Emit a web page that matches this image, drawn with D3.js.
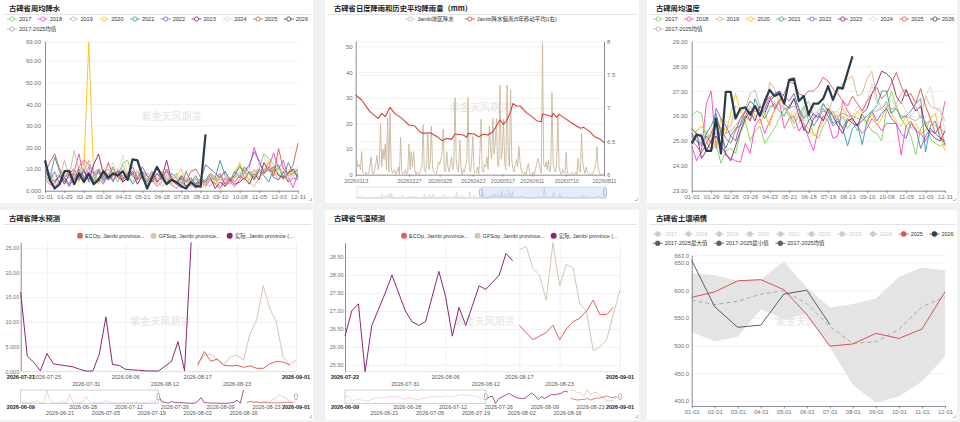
<!DOCTYPE html>
<html>
<head>
<meta charset="utf-8">
<script src="https://cdn.jsdelivr.net/npm/d3@7"></script>
<style>
  html, body { margin: 0; padding: 0; background: #f1f1f1; }
  svg { display: block; }
</style>
</head>
<body>
<svg id="board" width="960" height="422"></svg>
<script>
// ---------- DATA ----------
const years = ["2017", "2018", "2019", "2020", "2021", "2022", "2023", "2024", "2025", "2026"];
const avgName = "2017-2025均值";
const weekTicks = ["01-01", "01-29", "02-26", "03-26", "04-23", "05-21", "06-18",
  "07-16", "08-13", "09-10", "10-08", "11-05", "12-03", "12-31"];

// weekly precipitation (53 weeks, 2026 partial)
const rain2017 = [6,4,3,8,5,2,6,9,4,7, 3,10,6,5,8,4,13,14,6,9, 5,8,7,4,6,3,5,8,4,2, 5,3,6,4,5,3,7,2,4,9, 12,6,8,5,10,17,15,12,8,5, 9,7,8];
const rain2018 = [5,3,2,4,6,3,9,17,5,11, 4,6,3,8,5,7,4,6,9,5, 7,3,5,2,4,6,3,1,4,2, 3,1,4,2,5,3,1,6,4,2, 5,8,11,20,13,9,11,17.5,10,14, 6,1.5,8];
const rain2019 = [12,8,5,6,14,7,18.5,9,13,6, 9,4,7,10,5,8,12,6,4,9, 6,3,8,5,2,4,7,3,1,5, 2,4,1,3,2,6,1,4,3,7, 5,9,4,2,6,8,13,9,5,7, 4,9,6];
const rain2020 = [4,7,5,3,9,6,8,4,11,68.5, 7,3,8,5,10,6,4,9,7,5, 8,4,6,3,9,5,2,7,10,4, 3,6,2,5,8,3,6,9,4,7, 13,8,5,10,6,9,14,7,11,5, 7,10,8];
const rain2021 = [8,6,15.5,9,4,7,3,10,6,8, 5,9,4,7,11,6,5,8,3,6, 9,4,7,11,5,3,8,6,2,9, 4,7,3,5,8,6,14,7,4,9, 6,11,8,5,9,7,4,10,12,6, 13,8,10];
const rain2022 = [7,5,9,3,6,2,8,5,10,4, 7,9,5,8,4,10,6,7,9,5, 11,7,4,8,6,9,5,3,7,4, 6,3,5,12,10,8,6,9,5,7, 11,9,12,18,14,8,10,6,5,9, 4,6,5];
const rain2023 = [9,6,4,7,3,8,10,6,9,5, 12,17,8,5,7,9,4,6,8,3, 7,5,9,4,6,14,5,3,6,2, 4,2,5,3,6,1,4,2,5,3, 4,6,3,8,5,13,9,11,7,6, 8,10,6];
const rain2024 = [11,7,9,5,8,6,10,7,12,9, 6,8,11,7,13,9,16.5,8,6,10, 7,5,9,6,4,8,5,7,3,6, 2,5,4,3,6,5,3,7,4,6, 9,7,11,6,13,16,9,7,10,8, 6,9,11];
const rain2025 = [8,13,17,10,6,9,5,11,14,12, 8,10,6,13,7,9,5,8,11,6, 9,7,4,8,5,10,6,3,7,4, 9,10,6,4,7,5,8,3,6,4, 7,5,9,6,10,8,11,7,19.5,10, 8,12,22];
const rain2026 = [14,5,1,3,9,9,3,8,4,8, 3,5,9,6,8,7,9,5,14.5,14, 7,1,6,11,7,3,5,4,2,1, 4,2,2,26];
const rainAvg = [8,7,8,6,7,6,9,8,9,14, 7,8,6,8,7,8,7,7,7,6, 8,5,6,6,5,7,5,4,5,4, 5,5,4,5,6,5,5,5,4,6, 8,8,8,9,9,10,10,10,10,8, 7,8,9];

// weekly temperature
const temp2017 = [26.0,26.2,26.1,25.0,24.6,24.9,24.1,24.6,24.7,24.5, 25.3,25.8,25.0,25.4,25.6,24.9,25.2,25.5,25.9,26.3, 26.1,25.7,26.0,26.4,25.8,25.3,25.1,25.6,25.9,26.2, 25.7,26.0,25.5,25.8,25.4,26.1,25.7,25.4,25.3,25.0, 26.3,27.0,26.4,25.9,25.6,25.2,24.45,25.5,25.8,25.1, 24.9,24.8,24.9];
const temp2018 = [24.8,24.2,24.6,26.5,27.0,24.7,25.5,24.4,24.3,24.2, 24.15,24.9,24.5,25.6,25.9,25.3,25.8,26.2,26.6,25.5, 25.9,26.0,25.4,25.7,25.1,24.6,25.5,26.0,25.8,25.1, 25.2,26.6,26.2,25.9,25.6,25.3,25.5,25.9,25.7,25.4, 25.7,25.7,25.7,24.45,25.6,25.8,25.4,25.3,25.0,25.4, 25.3,25.6,26.6];
const temp2019 = [24.9,25.4,25.6,25.3,25.0,24.9,25.3,25.5,25.6,26.4, 26.2,26.3,26.9,27.05,26.4,26.1,27.35,27.1,26.5,26.3, 26.0,25.5,25.7,26.3,26.6,26.0,26.2,26.5,26.1,26.7, 27.0,27.3,27.5,27.6,26.8,26.9,27.5,27.8,26.7,26.3, 26.6,26.1,26.5,26.9,27.1,26.6,26.4,25.9,26.8,26.4, 26.3,26.2,25.8];
const temp2020 = [25.2,25.4,25.6,25.4,25.0,24.8,25.9,25.3,26.1,26.9, 26.2,25.8,26.4,26.0,25.7,26.1,25.6,26.3,26.7,26.4, 26.1,25.9,26.3,25.7,25.5,25.2,25.4,25.8,26.3,26.1, 25.9,26.3,26.0,25.8,26.2,25.9,25.7,26.1,25.6,25.9, 26.4,26.1,25.8,25.6,26.0,25.5,25.7,25.3,25.4,25.9, 26.1,25.2,24.6];
const temp2021 = [25.2,25.0,24.9,25.3,25.6,26.1,25.3,24.7,25.2,25.5, 25.6,26.0,25.8,26.7,26.2,25.9,26.3,26.5,26.2,26.0, 26.4,26.7,26.3,25.9,26.1,25.6,25.9,26.5,26.2,25.7, 25.9,25.5,24.8,25.5,25.7,24.85,25.8,26.2,26.4,27.0, 27.0,26.1,26.3,25.9,26.0,26.2,26.5,26.7,24.55,25.6, 25.8,25.1,24.9];
const temp2022 = [25.3,25.0,24.8,25.2,24.9,26.3,25.9,25.6,25.2,25.0, 25.7,26.2,26.6,26.4,26.0,26.3,26.7,26.9,27.0,26.8, 26.6,26.9,26.3,25.4,25.8,26.1,25.9,26.3,26.0,25.6, 25.8,25.5,25.9,25.7,25.6,25.8,26.0,26.2,25.8,26.1, 26.3,25.9,25.7,25.3,25.1,25.7,25.5,24.7,25.2,25.5, 25.3,25.1,25.0];
const temp2023 = [25.5,25.3,24.3,24.6,25.0,25.2,24.8,24.5,24.2,24.8, 25.4,25.9,26.2,25.8,26.4,26.1,26.6,26.8,27.0,26.5, 26.3,26.7,26.0,25.5,25.3,25.9,26.1,25.8,26.3,26.0, 25.6,25.3,25.8,25.9,25.6,26.1,26.3,26.9,27.3,27.8, 27.7,27.5,26.8,26.5,27.05,26.6,26.2,26.4,25.6,25.3, 25.1,25.0,25.4];
const temp2024 = [24.8,25.0,25.3,25.0,25.4,25.2,25.5,25.8,25.6,26.0, 26.3,26.0,26.4,26.2,26.5,26.1,26.3,26.6,26.2,26.4, 26.0,26.3,26.1,25.8,26.2,26.4,26.0,26.3,26.5,26.1, 26.2,26.5,26.3,26.0,26.4,26.1,26.6,27.3,26.5,26.2, 26.4,26.7,26.3,26.6,26.2,26.0,26.3,26.5,26.8,27.2, 26.3,26.3,25.4];
const temp2025 = [25.0,24.8,24.5,24.9,25.3,25.8,25.5,25.1,24.9,25.4, 25.9,26.2,25.8,26.4,26.1,26.5,26.8,26.3,26.6,26.9, 27.4,27.3,26.9,26.8,27.0,27.0,27.2,27.55,27.4,27.1, 26.9,26.6,26.4,26.8,26.5,26.2,26.6,26.9,27.15,26.7, 26.9,27.3,27.75,27.2,26.8,26.9,26.5,27.1,26.4,25.9, 25.3,25.6,24.8];
const temp2026 = [24.9,25.25,25.2,24.6,24.6,25.9,24.5,26.97,26.97,25.9, 26.3,26.35,26.05,26.4,26.0,26.6,27.05,26.8,26.9,26.5, 27.45,27.5,26.6,26.8,26.05,26.5,26.5,26.7,27.2,26.65, 27.15,27.1,27.75,28.4];
const tempAvg = [25.2,25.1,25.0,25.1,25.2,25.3,25.2,25.3,25.4,25.6, 25.9,26.0,26.1,26.2,26.1,26.2,26.4,26.4,26.5,26.3, 26.3,26.4,26.2,26.0,26.0,25.9,26.0,26.2,26.2,26.0, 26.0,26.1,26.0,26.0,25.9,25.9,26.0,26.2,26.2,26.3, 26.5,26.3,26.3,26.0,26.0,25.9,25.8,26.0,25.7,25.8, 25.6,25.5,25.3];

// daily rain 2026-01-13 .. 2026-08-11 and 5-year moving average (right axis)
const dailyStart = "20260113";
const dailyEnd = "20260811";
const dailyTicks = ["20260113", "20260227", "20260325", "20260422", "20260517", "20260611", "20260710", "20260811"];
const dailyRain = [6,5.7,3,4,2,9,1,0.5,0,1, 0,0.5,3,7,1,0,2,4,7.5,2, 5,20,3,10,6,12,2,22,1,24,
  3,0.5,1,2,0,1,3,0,14.5,1, 0,0.5,2,0,1,12,2,9,3,9, 2,0,1,0.5,0,2,3,19.5,2,1,
  4,16,2,5,19,3,1,0.5,0,2, 5,4,6,8,17.7,2,1,9,3,1, 4,7,2,5,30,6,2,1,13.5,3,
  0,2,1,4,6,30,3,1,5,15, 2,0.5,1,3,0,8,21.6,2,1,4, 3,7,2,19,10,6,22,8,12,22,
  4,3,35,6,9,21.6,5,2,35,8, 3,33,6,2,1,4,6,3,11,5, 2,0.5,0,1,0,2,4.4,1,0,0,
  1,0,2,4,6.4,5,2,0.5,51.5,4, 3,5,2,5.7,1,3,32,4,2,1, 5,22.6,3,1,0,2,1,0.5,8.6,1,
  0,0,0.5,1,0,0,1,0,6.4,2, 1,16,5,2,0.5,3,1,0,0,0.5, 0,1,2,4,11,3,1,0,0.5,0, 0];
const maDay = [0,5,12,19,22,25,29,33,39,45,50,54,57,63,69,73,77,81,84,91,94,95,100,104,108,112,116,119,122,125,
  128,131,133,136,139,145,149,153,157,158,162,166,167,170,172,177,184,190,193,198,202,207,210];
const maVal = [7.195,7.12,6.945,6.845,6.92,6.87,7.01,6.92,6.845,6.745,6.73,6.645,6.62,6.63,6.57,6.51,6.545,6.53,6.61,6.595,
  6.56,6.62,6.61,6.57,6.605,6.595,6.645,6.73,6.82,6.755,6.82,6.945,7.07,7.03,7.03,6.92,6.87,6.81,6.795,6.91,
  6.895,6.87,6.92,6.86,6.905,6.845,6.76,6.695,6.71,6.645,6.57,6.53,6.48];

// forecasts
const fcNames = ["ECOp, Jambi province...", "GFSop, Jambi province...", "实际, Jambi province (..."];
const sliderStart = "2026-06-09";
const sliderEnd = "2026-09-01";
const sliderTicks = ["2026-06-09", "2026-06-21", "2026-06-28", "2026-07-05", "2026-07-12", "2026-07-19",
  "2026-07-26", "2026-08-02", "2026-08-09", "2026-08-16", "2026-08-23", "2026-09-01"];
const fcStart = "2026-08-17";

const prStart = "2026-07-21";
const prTicks = ["2026-07-21", "2026-07-25", "2026-07-31", "2026-08-06", "2026-08-12", "2026-08-17", "2026-08-23", "2026-09-01"];
const prEarly = [1,0,2,1,3,5,1,0,25,4, 1,0,2,3,1,17.5,2,0,1,3, 13,4,1,0,2,1,5,2,0,1, 0,1,2,0,1,3,2,0,1,2, 4,1];
const prActual = [16,3.1,1.8,0.1,3.6,1.5,1.3,1.1,0.9,0.4, 0.05,0.05,3.5,11,1.4,1.2,0.4,0.3,0.2,0.1, 0.05,0.05,1.0,2.0,6.0,0.1,26.1];
const prEcop = [1.2,4.0,2.0,2.5,1.2,1.1,1.2,0.8,1.1,0.6,0.6,1.5,2.0,1.9,1.3];
const prGfs = [1.5,3.3,3.5,2.4,1.3,3.0,3.2,2.3,7.7,10.4,17.3,12.7,10.0,3.0,1.3,2.3];

const tpStart = "2026-07-22";
const tpTicks = ["2026-07-22", "2026-07-31", "2026-08-06", "2026-08-12", "2026-08-17", "2026-08-23", "2026-09-01"];
const tpEarly = [27.0,27.3,25.8,26.2,26.5,26.2,26.0,25.9,26.3,26.6, 26.9,26.7,26.8,27.0,27.1,27.0,27.3,26.8,26.4,26.6,
  26.7,26.5,26.2,26.4,26.7,26.9,27.0,27.1,27.1,27.0, 27.2,27.3,27.1,27.0,27.4,27.5,27.6,27.5,27.4,27.5, 27.2,26.9,26.6];
const tpActual = [26.3,27.0,27.2,25.31,26.6,27.05,27.5,28.0,27.5,27.0, 26.7,26.6,26.7,27.4,28.1,27.4,26.3,27.1,26.6,27.15, 27.7,27.6,27.8,28.0,28.6,28.4];
const tpEcop = [26.6,26.4,26.2,26.3,26.4,26.6,26.2,26.5,26.7,26.8,27.0,27.3,26.9,26.9,27.1];
const tpGfs = [28.7,28.8,28.2,28.0,27.3,28.9,27.7,28.3,28.2,27.2,27.0,25.9,26.0,26.2,26.9,27.6];

// soil moisture, monthly
const monthTicks = ["01-01","02-01","03-01","04-01","05-01","06-01","07-01","08-01","09-01","10-01","11-01","12-01"];
const soilNames = ["2017-2025最大值", "2017-2025最小值", "2017-2025均值"];
const soil2025 = [587,597,617,619,601,556,499,503,522,513,530,597];
const soil2026 = [654,570,533,537,593,600,538];
const soilAvg = [582,574,580,593,599,576,534,504,507,529,570,588];
const soilMax = [631,627,617,620,652,605,569,575,585,624,641,636];
const soilMin = [524,508,516,565,548,556,497,429,397,408,435,480];

// ---------- STYLE ----------
const svg = d3.select("#board");
const FONT = "'Liberation Sans', 'Noto Sans CJK SC', sans-serif";
const CJK = "'Noto Sans CJK SC', sans-serif";
const axisGrey = "#6e7079";
const gridGrey = "#ebebeb";
const yearColors = ["#7fd54f", "#ff3ec0", "#cbb78e", "#ffc10a", "#2c9c9c", "#6d5fd3", "#8c1d6c", "#e3d6c4", "#d9534f", "#263c4c"];
const avgColor = "#a8a8a8";
const fcColors = ["#e0615a", "#d5c5b0", "#8e2378"];
const fmt4 = d3.format(".4r");
const parseDash = d3.utcParse("%Y-%m-%d");
const parseCompact = d3.utcParse("%Y%m%d");

function panel(x, y, w, h, title) {
  svg.append("rect").attr("x", x).attr("y", y).attr("width", w).attr("height", h).attr("fill", "#fff");
  svg.append("text").attr("x", x + 9).attr("y", y + 11)
    .style("font-family", CJK).style("font-weight", "bold").style("font-size", "7.3px")
    .attr("fill", "#222").text(title);
  svg.append("line").attr("x1", x + 3).attr("x2", x + w - 2).attr("y1", y + 14.5).attr("y2", y + 14.5)
    .attr("stroke", "#e2e2e2").attr("stroke-width", 1);
  svg.append("path").attr("d", `M${x + w - 1.5},${y + h - 5} v2.5 h-2.5`)
    .attr("fill", "none").attr("stroke", "#999").attr("stroke-width", 0.6);
}

function watermark(cx, cy) {
  svg.append("text").attr("x", cx).attr("y", cy).attr("text-anchor", "middle")
    .style("font-family", CJK).style("font-size", "10px").attr("fill", "#e4e4e4").text("紫金天风期货");
}

function legend(g, items, x, y, gap, kind) {
  let cx = x;
  items.forEach(it => {
    const c = it.color;
    if (kind === "dot") {
      g.append("circle").attr("cx", cx + 3).attr("cy", y).attr("r", 3).attr("fill", c);
      cx += 8;
    } else {
      g.append("line").attr("x1", cx).attr("x2", cx + 10).attr("y1", y).attr("y2", y)
        .attr("stroke", c).attr("stroke-width", 0.8);
      g.append("circle").attr("cx", cx + 5).attr("cy", y).attr("r", kind === "lineDot" ? 2.4 : 2.1)
        .attr("fill", kind === "lineDot" ? c : "#fff").attr("stroke", c).attr("stroke-width", 0.8);
      cx += 12;
    }
    const t = g.append("text").attr("x", cx).attr("y", y).attr("dy", "0.35em")
      .style("font-family", FONT).style("font-size", "5.5px").attr("fill", it.text || "#333").text(it.name);
    cx += t.node().getComputedTextLength() + gap;
  });
  return cx - gap;
}

function hGrid(scale, ticks, x0, x1) {
  svg.append("g").attr("transform", `translate(${x0},0)`)
    .call(d3.axisLeft(scale).tickValues(ticks).tickSize(-(x1 - x0)).tickFormat(""))
    .call(a => {
      a.select(".domain").remove();
      a.selectAll("line").attr("stroke", gridGrey).attr("stroke-width", 0.7);
    });
}

function styleAxis(a, size) {
  a.selectAll("text").style("font-family", FONT).style("font-size", size + "px").attr("fill", axisGrey);
  a.select(".domain").attr("stroke", axisGrey).attr("stroke-width", 0.8);
  a.selectAll(".tick line").attr("stroke", axisGrey).attr("stroke-width", 0.7);
}

function drawLine(data, x, y, color, width, dash) {
  const p = svg.append("path").datum(data)
    .attr("fill", "none").attr("stroke", color).attr("stroke-width", width)
    .attr("stroke-linejoin", "round")
    .attr("d", d3.line().x((d, i) => x(i)).y(d => y(d)));
  if (dash) p.attr("stroke-dasharray", dash);
  return p;
}

// ---------- PANELS ----------
panel(0, 0, 313, 203, "古碑省周均降水");
panel(325, 0, 314, 203, "古碑省日度降雨和历史平均降雨量（mm）");
panel(647, 0, 310, 203, "古碑周均温度");
panel(0, 210, 313, 210, "古碑省降水预测");
panel(325, 210, 314, 210, "古碑省气温预测");
panel(647, 210, 310, 210, "古碑省土壤墒情");

// ---------- WEEKLY CHARTS (precip & temperature) ----------
function weeklyChart(opt) {
  const x = d3.scaleLinear().domain([0, 52]).range([opt.x0, opt.x1]);
  const y = d3.scaleLinear().domain(opt.domain).range([opt.y1, opt.y0]);
  hGrid(y, opt.ticks, opt.x0, opt.x1);
  watermark((opt.x0 + opt.x1) / 2, (opt.y0 + opt.y1) / 2 + 4);

  svg.append("g").attr("transform", `translate(${opt.x0},0)`)
    .call(d3.axisLeft(y).tickValues(opt.ticks).tickSize(0).tickPadding(4).tickFormat(fmt4))
    .call(a => styleAxis(a, 6));
  svg.append("g").attr("transform", `translate(0,${opt.y1})`)
    .call(d3.axisBottom(x).tickValues(d3.range(0, 53, 4)).tickSize(2.5).tickSizeOuter(0).tickPadding(2)
      .tickFormat(i => weekTicks[i / 4]))
    .call(a => styleAxis(a, 6));

  opt.series.slice(0, 9).forEach((s, k) => drawLine(s, x, y, yearColors[k], 0.9));
  drawLine(opt.avg, x, y, avgColor, 0.9);
  drawLine(opt.series[9], x, y, yearColors[9], 2.2);

  const lg = svg.append("g");
  legend(lg, years.map((n, k) => ({ name: n, color: yearColors[k] })), opt.lx, 19, 6.5, "lineCircle");
  legend(lg, [{ name: avgName, color: avgColor }], opt.lx, 29, 6.5, "lineCircle");
}

weeklyChart({
  x0: 45, x1: 298, y0: 41.3, y1: 190.7, domain: [0, 69],
  ticks: [0, 10, 20, 30, 40, 50, 60, 69],
  series: [rain2017, rain2018, rain2019, rain2020, rain2021, rain2022, rain2023, rain2024, rain2025, rain2026],
  avg: rainAvg, lx: 7
});
weeklyChart({
  x0: 691.7, x1: 945, y0: 41.3, y1: 190.7, domain: [23, 29],
  ticks: [23, 24, 25, 26, 27, 28, 29],
  series: [temp2017, temp2018, temp2019, temp2020, temp2021, temp2022, temp2023, temp2024, temp2025, temp2026],
  avg: tempAvg, lx: 653.3
});

// ---------- DAILY RAIN CHART ----------
(function () {
  const x0 = 355.7, x1 = 604, y0 = 41.3, y1 = 174.7;
  const start = parseCompact(dailyStart);
  const x = d3.scaleUtc().domain([start, parseCompact(dailyEnd)]).range([x0, x1]);
  const yL = d3.scaleLinear().domain([0, 52]).range([y1, y0]);
  const yR = d3.scaleLinear().domain([6, 8]).range([y1, y0]);
  const day = i => d3.utcDay.offset(start, i);

  hGrid(yL, [10, 20, 30, 40, 50], x0, x1);
  hGrid(yR, [6.5, 7, 7.5, 8], x0, x1);
  watermark(480, 111);

  svg.append("g").attr("transform", `translate(${x0},0)`)
    .call(d3.axisLeft(yL).tickValues([0, 10, 20, 30, 40, 50]).tickSize(0).tickPadding(3))
    .call(a => styleAxis(a, 6));
  svg.append("g").attr("transform", `translate(${x1},0)`)
    .call(d3.axisRight(yR).tickValues([6, 6.5, 7, 7.5, 8]).tickSize(0).tickPadding(3).tickFormat(d => String(d)))
    .call(a => styleAxis(a, 6));
  svg.append("g").attr("transform", `translate(0,${y1})`)
    .call(d3.axisBottom(x).tickValues(dailyTicks.map(parseCompact)).tickSize(2).tickSizeOuter(0).tickPadding(2)
      .tickFormat(d3.utcFormat("%Y%m%d")))
    .call(a => styleAxis(a, 5.5));

  svg.append("path").datum(dailyRain)
    .attr("fill", "none").attr("stroke", "#c9b79c").attr("stroke-width", 0.9).attr("stroke-linejoin", "round")
    .attr("d", d3.line().x((d, i) => x(day(i))).y(d => yL(d)));
  svg.append("path").datum(maVal)
    .attr("fill", "none").attr("stroke", "#d7403a").attr("stroke-width", 1.1).attr("stroke-linejoin", "round")
    .attr("d", d3.line().x((d, i) => x(day(maDay[i]))).y(d => yR(d)));

  // legend, centred
  const lg = svg.append("g");
  const end = legend(lg, [
    { name: "Jambi地区降水", color: "#c9b79c" },
    { name: "Jambi降水偏离(5年移动平均)(右)", color: "#d7403a" }
  ], 0, 19, 11, "lineCircle");
  lg.attr("transform", `translate(${481 - end / 2},0)`);

  // data zoom slider
  const sx0 = 357, sx1 = 606, sy0 = 187, sy1 = 198, sel = 481;
  const xs = d3.scaleLinear().domain([0, dailyRain.length - 1]).range([sx0, sx1]);
  const ys = d3.scaleLinear().domain([0, 52]).range([sy1, sy0]);
  svg.append("rect").attr("x", sx0).attr("y", sy0).attr("width", sx1 - sx0).attr("height", sy1 - sy0)
    .attr("fill", "none").attr("stroke", "#d2dbee").attr("stroke-width", 0.7);
  svg.append("path").datum(dailyRain)
    .attr("fill", "#eef0f3").attr("stroke", "#c9ccd2").attr("stroke-width", 0.5)
    .attr("d", d3.area().x((d, i) => xs(i)).y0(sy1).y1(d => ys(d)));
  svg.append("rect").attr("x", sel).attr("y", sy0).attr("width", sx1 - sel).attr("height", sy1 - sy0)
    .attr("fill", "rgba(135,165,235,0.22)");
  [sel, sx1 - 1].forEach(hx => {
    svg.append("rect").attr("x", hx - 1.5).attr("y", sy0 + 2).attr("width", 3).attr("height", 7).attr("rx", 1)
      .attr("fill", "#dfe7f7").attr("stroke", "#7f9ed9").attr("stroke-width", 0.6);
  });
})();

// ---------- FORECAST CHARTS ----------
function forecastChart(opt) {
  const { x0, x1, y0, y1 } = opt;
  const start = parseDash(opt.start);
  const fStart = parseDash(fcStart);
  const x = d3.scaleUtc().domain([start, parseDash(sliderEnd)]).range([x0, x1]);
  const y = d3.scaleLinear().domain(opt.domain).range([y1, y0]);
  const ticks = opt.ticks.map(parseDash);

  hGrid(y, opt.yTicks, x0, x1);
  svg.append("g").attr("transform", `translate(0,${y0})`)
    .call(d3.axisBottom(x).tickValues(ticks.slice(1)).tickSize(y1 - y0).tickFormat(""))
    .call(a => {
      a.select(".domain").remove();
      a.selectAll("line").attr("stroke", gridGrey).attr("stroke-width", 0.7);
    });
  watermark((x0 + x1) / 2 + 2, 325);

  svg.append("g").attr("transform", `translate(${x0},0)`)
    .call(d3.axisLeft(y).tickValues(opt.yTicks).tickSize(0).tickPadding(1.5).tickFormat(fmt4))
    .call(a => styleAxis(a, 5.5));
  svg.append("line").attr("x1", x0).attr("x2", x1).attr("y1", y1).attr("y2", y1)
    .attr("stroke", "#d0d0d0").attr("stroke-width", 0.6);

  dateLabels(x, ticks, 379, 385.7, opt.rowOffset);

  const line = (arr, s) => d3.line().x((d, i) => x(d3.utcDay.offset(s, i))).y(d => y(d))(arr);
  svg.append("path").attr("d", line(opt.actual, start)).attr("fill", "none")
    .attr("stroke", fcColors[2]).attr("stroke-width", 1).attr("stroke-linejoin", "round");
  svg.append("path").attr("d", line(opt.gfs, fStart)).attr("fill", "none")
    .attr("stroke", fcColors[1]).attr("stroke-width", 1).attr("stroke-linejoin", "round");
  svg.append("path").attr("d", line(opt.ecop, fStart)).attr("fill", "none")
    .attr("stroke", fcColors[0]).attr("stroke-width", 1).attr("stroke-linejoin", "round");

  legend(svg.append("g"), fcNames.map((n, k) => ({ name: n, color: fcColors[k] })), opt.lx, 235.7, 6, "dot");

  // slider with thumbnail
  const sy0 = 390, sy1 = 403.3;
  const sStart = parseDash(sliderStart);
  const xs = d3.scaleUtc().domain([sStart, parseDash(sliderEnd)]).range([x0, x1]);
  const ys = d3.scaleLinear().domain(opt.domain).range([sy1, sy0]);
  const sel = xs(start);
  const sline = (arr, s) => d3.line().x((d, i) => xs(d3.utcDay.offset(s, i))).y(d => ys(d))(arr);
  const early = opt.early.concat(opt.actual.slice(0, 1));
  svg.append("path").attr("d", sline(early, sStart)).attr("fill", "none")
    .attr("stroke", "#e6c3dc").attr("stroke-width", 0.7);
  svg.append("path").attr("d", sline(opt.actual, start)).attr("fill", "none")
    .attr("stroke", fcColors[2]).attr("stroke-width", 0.8);
  svg.append("path").attr("d", sline(opt.gfs, fStart)).attr("fill", "none")
    .attr("stroke", fcColors[1]).attr("stroke-width", 0.8);
  svg.append("path").attr("d", sline(opt.ecop, fStart)).attr("fill", "none")
    .attr("stroke", fcColors[0]).attr("stroke-width", 0.8);
  svg.append("rect").attr("x", x0).attr("y", sy0).attr("width", sel - x0).attr("height", sy1 - sy0)
    .attr("fill", "none").attr("stroke", "#bdbdbd").attr("stroke-width", 0.7);
  [sel, x1].forEach(hx => {
    svg.append("rect").attr("x", hx - 1.3).attr("y", sy0 + 3.5).attr("width", 2.6).attr("height", 6).attr("rx", 0.8)
      .attr("fill", "#fff").attr("stroke", "#8a8a8a").attr("stroke-width", 0.6);
  });
  dateLabels(xs, sliderTicks.map(parseDash), 409, 414.5, 1);
}

function dateLabels(x, ticks, r1, r2, rowOffset) {
  const f = d3.utcFormat("%Y-%m-%d");
  ticks.forEach((t, i) => {
    const edge = i === 0 || i === ticks.length - 1;
    const row = edge ? 0 : ((i - 1 + rowOffset) % 2);
    svg.append("text").attr("x", x(t)).attr("y", row ? r2 : r1).attr("text-anchor", "middle")
      .style("font-family", FONT).style("font-size", "5.5px")
      .style("font-weight", edge ? "bold" : "normal")
      .attr("fill", edge ? "#222" : "#555").text(f(t));
  });
}

const prAll = prActual.concat(prEcop, prGfs);
forecastChart({
  x0: 20.7, x1: 296, y0: 242.3, y1: 371.3, start: prStart, ticks: prTicks,
  domain: [0, d3.max(prAll)], yTicks: [0, 5, 10, 15, 20, 25], rowOffset: 0,
  actual: prActual, ecop: prEcop, gfs: prGfs, early: prEarly, lx: 77
});
const tpAll = tpActual.concat(tpEcop, tpGfs);
forecastChart({
  x0: 345, x1: 620, y0: 242.7, y1: 371.7, start: tpStart, ticks: tpTicks,
  domain: d3.extent(tpAll), yTicks: [25.5, 26, 26.5, 27, 27.5, 28, 28.5], rowOffset: 1,
  actual: tpActual, ecop: tpEcop, gfs: tpGfs, early: tpEarly, lx: 401
});

// ---------- SOIL MOISTURE ----------
(function () {
  const x0 = 691.7, x1 = 945, y0 = 255.3, y1 = 406;
  const x = d3.scaleLinear().domain([0, 11]).range([x0, x1]);
  const y = d3.scaleLinear().domain([391, 663]).range([y1, y0]);
  const yTicks = [400, 450, 500, 550, 600, 650, 663];

  hGrid(y, yTicks, x0, x1);
  svg.append("path").datum(soilMax)
    .attr("fill", "#e4e4e4")
    .attr("d", d3.area().x((d, i) => x(i)).y0((d, i) => y(soilMin[i])).y1(d => y(d)));
  watermark(806, 325);

  svg.append("g").attr("transform", `translate(${x0},0)`)
    .call(d3.axisLeft(y).tickValues(yTicks).tickSize(0).tickPadding(2.5).tickFormat(fmt4))
    .call(a => styleAxis(a, 6));
  svg.append("g").attr("transform", `translate(0,${y1})`)
    .call(d3.axisBottom(x).tickValues(d3.range(12)).tickSize(2.5).tickSizeOuter(0).tickPadding(1.5)
      .tickFormat(i => monthTicks[i]))
    .call(a => styleAxis(a, 5.8));

  drawLine(soilAvg, x, y, "#a9a9a9", 1, "4,3");
  drawLine(soil2025, x, y, "#d9534f", 1);
  drawLine(soil2026, x, y, "#4f6273", 1);

  const lg = svg.append("g");
  legend(lg, years.map((n, k) => ({
    name: n,
    color: k < 8 ? "#cccccc" : (k === 8 ? "#d9534f" : "#2b4053"),
    text: k < 8 ? "#cccccc" : "#333"
  })), 652.7, 234, 6.5, "lineDot");
  legend(lg, soilNames.map(n => ({ name: n, color: "#5d5d5d" })), 652.7, 243.3, 6.5, "lineDot");
})();
</script>
</body>
</html>
